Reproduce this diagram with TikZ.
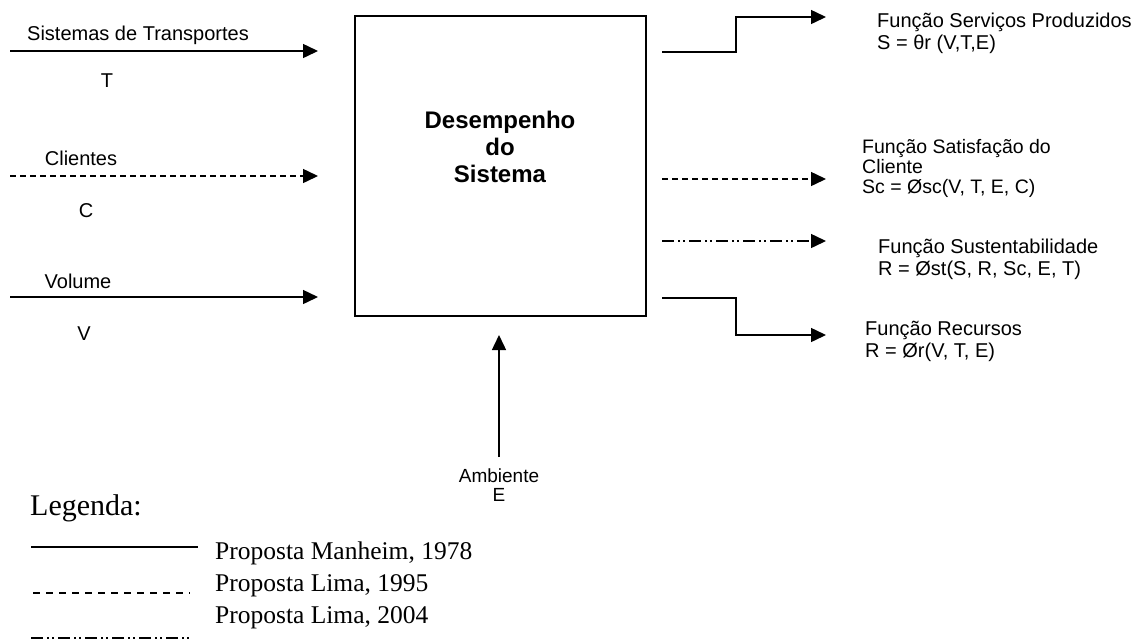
\documentclass[tikz,border=0pt]{standalone}
\usepackage{fontspec}
\setmainfont{Liberation Serif}
\newfontfamily\labelfont{Liberation Sans}
\usetikzlibrary{arrows.meta}

\begin{document}
\begin{tikzpicture}[x=1pt,y=-1pt,
  conn/.style={line width=1.5pt, -{Triangle[length=15pt,width=14pt]}},
  dashline/.style={dash pattern=on 6pt off 4pt},
  dotdash/.style={dash pattern=on 12pt off 4pt on 2pt off 3pt on 2pt off 4pt},
  lbl/.style={font=\labelfont\fontsize{20}{22}\selectfont, inner sep=0pt},
  outtxt/.style={lbl, align=left, anchor=west},
  leg/.style={font=\fontsize{25.5}{28}\selectfont, inner sep=0pt, anchor=west},
  legline/.style={line width=1.6pt}]
\useasboundingbox (0,0) rectangle (1144,641);
\fill[white] (0,0) rectangle (1144,641);

% central block
\node[draw, line width=1.5pt, minimum width=291pt, minimum height=300pt, inner sep=0pt] (sys) at (500.5,166) {};
\node[font=\labelfont\bfseries\fontsize{24}{27}\selectfont, align=center, inner sep=0pt] (title) at (500,147) {Desempenho\\do\\Sistema};

% inputs
\coordinate (tS) at (10,51);  \coordinate (tE) at (318,51);
\coordinate (cS) at (10,176); \coordinate (cE) at (318,176);
\coordinate (vS) at (10,297); \coordinate (vE) at (318,297);
\draw[conn] (tS) -- (tE);
\draw[conn, dashline] (cS) -- (cE);
\draw[conn] (vS) -- (vE);
\node[lbl, anchor=west] (lt) at (27,35) {Sistemas de Transportes};
\node[lbl] (lT) at (107,81) {T};
\node[lbl] (lc) at (81,158) {Clientes};
\node[lbl] (lC) at (86,211) {C};
\node[lbl] (lv) at (78,281) {Volume};
\node[lbl] (lV) at (84,334) {V};

% environment input
\node[lbl, font=\labelfont\fontsize{19}{20}\selectfont] (amb) at (499,476) {Ambiente};
\node[lbl, font=\labelfont\fontsize{19}{20}\selectfont] (ambE) at (499,495) {E};
\coordinate (aS) at (499,457);
\coordinate (aE) at (499,335);
\draw[conn] (aS) -- (aE);

% outputs
\coordinate (o1) at (662,52);  \coordinate (o1b) at (736,52);  \coordinate (o1c) at (736,17);  \coordinate (o1e) at (826,17);
\coordinate (o2) at (662,179); \coordinate (o2e) at (826,179);
\coordinate (o3) at (662,241); \coordinate (o3e) at (826,241);
\coordinate (o4) at (662,298); \coordinate (o4b) at (736,298); \coordinate (o4c) at (736,335); \coordinate (o4e) at (826,335);
\draw[conn] (o1) -- (o1b) -- (o1c) -- (o1e);
\draw[conn, dashline] (o2) -- (o2e);
\draw[conn, dotdash] (o3) -- (o3e);
\draw[conn] (o4) -- (o4b) -- (o4c) -- (o4e);

\node[outtxt] (f1) at (877,33.5) {Função Serviços Produzidos\\S = θr (V,T,E)};
\node[outtxt, font=\labelfont\fontsize{19.5}{20}\selectfont] (f2) at (862,168) {Função Satisfação do\\Cliente\\Sc = Øsc(V, T, E, C)};
\node[outtxt] (f3) at (878,259) {Função Sustentabilidade\\R = Øst(S, R, Sc, E, T)};
\node[outtxt] (f4) at (865,341) {Função Recursos\\R = Ør(V, T, E)};

% legend
\node[leg, font=\fontsize{30}{32}\selectfont] (legtitle) at (30,508) {Legenda:};
\coordinate (l1s) at (31,547);  \coordinate (l1e) at (198,547);
\coordinate (l2s) at (33,593);  \coordinate (l2e) at (190,593);
\coordinate (l3s) at (31,638);  \coordinate (l3e) at (190,638);
\draw[legline] (l1s) -- (l1e);
\draw[legline, dash pattern=on 7pt off 6pt] (l2s) -- (l2e);
\draw[line width=2.5pt, dash pattern=on 12pt off 4pt on 2pt off 3pt on 2pt off 4pt] (l3s) -- (l3e);
\node[leg] (p1) at (215,553) {Proposta Manheim, 1978};
\node[leg] (p2) at (215,586) {Proposta Lima, 1995};
\node[leg] (p3) at (215,618) {Proposta Lima, 2004};
\end{tikzpicture}
\end{document}
